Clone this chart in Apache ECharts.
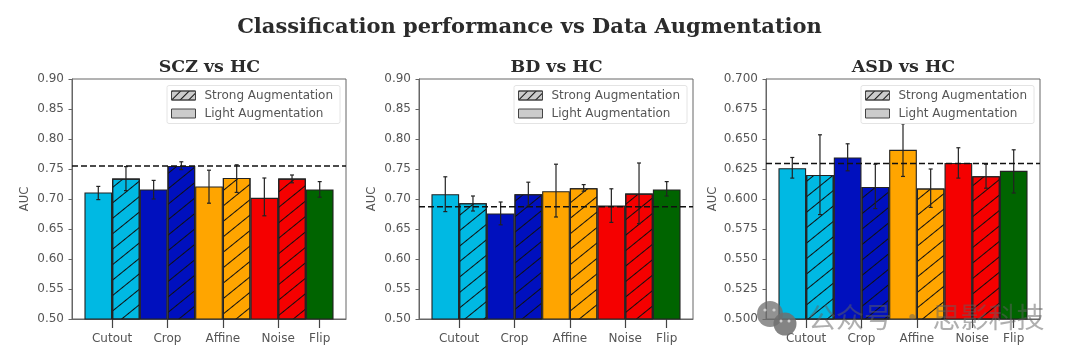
<!DOCTYPE html>
<html>
<head>
<meta charset="utf-8">
<style>
html,body{margin:0;padding:0;background:#fff;}
#main{width:1080px;height:363px;filter:blur(0.5px);}
</style>
<script src="https://cdn.jsdelivr.net/npm/echarts@6/dist/echarts.min.js"></script>
</head>
<body>
<div id="main"></div>
<script>
// tick labels for the x axis, placed at the bar positions below
const tickPos = [0.5, 2.5, 4.5, 6.5, 8];
const tickNames = ['Cutout', 'Crop', 'Affine', 'Noise', 'Flip'];

// bar slots: light bars sit on 0,2,4,6,8 and strong ones on 1,3,5,7
const lightPos = [0, 2, 4, 6, 8];
const strongPos = [1, 3, 5, 7];
const lightColors = ['#00b9e3', '#0010be', '#ffa500', '#f50000', '#006400'];
const strongColors = ['#00b9e3', '#0010be', '#ffa500', '#f50000'];

const titles = ['SCZ vs HC', 'BD vs HC', 'ASD vs HC'];
const gridLefts = [72, 419, 766];

// SCZ
const sczLight = [0.711, 0.716, 0.721, 0.702, 0.716];
const sczLightLow = [0.699, 0.700, 0.693, 0.672, 0.703];
const sczLightHigh = [0.721, 0.731, 0.748, 0.735, 0.729];
const sczStrong = [0.734, 0.755, 0.735, 0.734];
const sczStrongLow = [0.714, 0.749, 0.711, 0.727];
const sczStrongHigh = [0.754, 0.762, 0.757, 0.740];
// BD
const bdLight = [0.708, 0.676, 0.713, 0.689, 0.716];
const bdLightLow = [0.679, 0.657, 0.670, 0.661, 0.705];
const bdLightHigh = [0.737, 0.695, 0.758, 0.717, 0.729];
const bdStrong = [0.693, 0.708, 0.718, 0.709];
const bdStrongLow = [0.680, 0.688, 0.713, 0.659];
const bdStrongHigh = [0.705, 0.728, 0.724, 0.760];
// ASD
const asdLight = [0.6257, 0.6346, 0.641, 0.630, 0.6235];
const asdLightLow = [0.6174, 0.6235, 0.6188, 0.6174, 0.605];
const asdLightHigh = [0.6346, 0.646, 0.6627, 0.6427, 0.641];
const asdStrong = [0.620, 0.610, 0.6088, 0.619];
const asdStrongLow = [0.587, 0.592, 0.593, 0.609];
const asdStrongHigh = [0.6535, 0.629, 0.625, 0.629];

const baselines = [0.755, 0.687, 0.6296];
const yMins = [0.5, 0.5, 0.5];
const yMaxs = [0.9, 0.9, 0.7];
const ySteps = [0.05, 0.05, 0.025];
const yDigits = [2, 2, 3];
const yNameGaps = [41, 41, 47];

const panels = [
    {light: sczLight, lightLow: sczLightLow, lightHigh: sczLightHigh, strong: sczStrong, strongLow: sczStrongLow, strongHigh: sczStrongHigh},
    {light: bdLight, lightLow: bdLightLow, lightHigh: bdLightHigh, strong: bdStrong, strongLow: bdStrongLow, strongHigh: bdStrongHigh},
    {light: asdLight, lightLow: asdLightLow, lightHigh: asdLightHigh, strong: asdStrong, strongLow: asdStrongLow, strongHigh: asdStrongHigh}
];

const xMin = -0.95, xMax = 8.95;
const gridW = 274, gridH = 240, gridTop = 79;
const barPx = gridW / (xMax - xMin);
const gray = '#555';
const hatch = {
    symbol: 'rect',
    symbolSize: 1,
    color: '#101010',
    dashArrayX: [1, 0],
    dashArrayY: [1, 11],
    rotation: -Math.PI * 39 / 180
};
// the legend swatch is small, so its hatch runs tighter
const legendHatch = Object.assign({}, hatch, {dashArrayY: [1, 5], rotation: -Math.PI / 4});

function renderErr(params, api) {
    const x = api.value(0);
    const lo = api.coord([x, api.value(1)]);
    const hi = api.coord([x, api.value(2)]);
    const st = {stroke: '#222', lineWidth: 1.2};
    const line = (x1, y1, x2, y2) => ({type: 'line', shape: {x1, y1, x2, y2}, style: st});
    return {type: 'group', children: [
        line(lo[0], lo[1], hi[0], hi[1]),
        line(lo[0] - 2, lo[1], lo[0] + 2, lo[1]),
        line(hi[0] - 2, hi[1], hi[0] + 2, hi[1])
    ]};
}

const grid = [], xAxis = [], yAxis = [], series = [], legend = [], title = [];
title.push({
    text: 'Classification performance vs Data Augmentation',
    left: 524.5, top: 12, textAlign: 'center',
    textStyle: {fontFamily: 'DejaVu Serif', fontSize: 21, fontWeight: 'bold', color: '#2b2b2b'}
});

panels.forEach((p, i) => {
    const left = gridLefts[i];
    grid.push({left: left, top: gridTop, width: gridW, height: gridH, show: true, borderColor: '#666', borderWidth: 1, backgroundColor: '#fff'});
    title.push({
        text: titles[i], left: left + gridW / 2 - 4.5, top: 54, textAlign: 'center',
        textStyle: {fontFamily: 'DejaVu Serif', fontSize: 17.4, fontWeight: 'bold', color: '#2b2b2b'}
    });
    xAxis.push({
        type: 'value', gridIndex: i, min: xMin, max: xMax,
        splitLine: {show: false},
        axisLine: {show: true, onZero: false, lineStyle: {color: '#666'}},
        axisTick: {show: true, customValues: tickPos, length: 9, lineStyle: {color: '#444', width: 1.2}},
        axisLabel: {
            show: true, customValues: tickPos, margin: 14, fontSize: 12,
            fontFamily: 'DejaVu Sans', color: gray,
            formatter: v => tickNames[tickPos.indexOf(v)]
        }
    });
    yAxis.push({
        type: 'value', gridIndex: i, min: yMins[i], max: yMaxs[i], interval: ySteps[i],
        name: 'AUC', nameLocation: 'middle', nameGap: yNameGaps[i], nameRotate: 90,
        nameTextStyle: {fontFamily: 'DejaVu Sans', fontSize: 11.5, color: gray},
        splitLine: {show: false},
        axisLine: {show: true, onZero: false, lineStyle: {color: '#666'}},
        axisTick: {show: true, length: 3.5, lineStyle: {color: '#666'}},
        axisLabel: {
            fontSize: 12, margin: 8, fontFamily: 'DejaVu Sans', color: gray,
            formatter: v => v.toFixed(yDigits[i])
        }
    });
    series.push({
        name: 'Light Augmentation', type: 'bar', xAxisIndex: i, yAxisIndex: i,
        barWidth: barPx, barGap: '-100%', z: 2,
        itemStyle: {color: '#cbcbcb', borderColor: '#222', borderWidth: 1.1},
        data: p.light.map((v, k) => ({value: [lightPos[k], v], itemStyle: {color: lightColors[k]}}))
    });
    series.push({
        name: 'Strong Augmentation', type: 'bar', xAxisIndex: i, yAxisIndex: i,
        barWidth: barPx, barGap: '-100%', z: 2,
        itemStyle: {color: '#cbcbcb', borderColor: '#222', borderWidth: 1.1, decal: hatch},
        data: p.strong.map((v, k) => ({value: [strongPos[k], v], itemStyle: {color: strongColors[k], decal: hatch}}))
    });
    series.push({
        type: 'custom', xAxisIndex: i, yAxisIndex: i, z: 4, silent: true,
        clip: false,
        renderItem: renderErr,
        dimensions: ['x', 'low', 'high'],
        encode: {x: 'x', y: ['low', 'high']},
        data: lightPos.map((x, k) => [x, p.lightLow[k], p.lightHigh[k]])
            .concat(strongPos.map((x, k) => [x, p.strongLow[k], p.strongHigh[k]]))
    });
    series.push({
        type: 'line', xAxisIndex: i, yAxisIndex: i, z: 5, silent: true,
        symbol: 'none', lineStyle: {color: '#111', type: [6, 3], width: 1.5},
        data: [[xMin, baselines[i]], [xMax, baselines[i]]]
    });
    legend.push({
        orient: 'vertical', left: left + 95, top: 85.5, z: 10,
        data: [
            {name: 'Strong Augmentation', itemStyle: {decal: legendHatch, borderColor: '#444', borderWidth: 1}},
            {name: 'Light Augmentation', itemStyle: {borderColor: '#444', borderWidth: 1}}
        ],
        icon: 'rect',
        itemWidth: 24, itemHeight: 9, itemGap: 6, selectedMode: false,
        padding: [4, 7, 4, 4],
        backgroundColor: 'rgba(255,255,255,0.8)',
        borderColor: '#e4e4e4', borderWidth: 1, borderRadius: 2,
        textStyle: {fontFamily: 'DejaVu Sans', fontSize: 12, color: gray, padding: [0, 0, 0, 4]}
    });
});

const chart = echarts.init(document.getElementById('main'));
chart.setOption({
    animation: false,
    backgroundColor: '#fff',
    title, grid, xAxis, yAxis, series, legend,
    graphic: [
        {type: 'circle', shape: {cx: 770, cy: 314, r: 13}, z: 50, style: {fill: 'rgba(110,110,110,0.75)'}},
        {type: 'circle', shape: {cx: 785, cy: 324, r: 11.5}, z: 51, style: {fill: 'rgba(110,110,110,0.85)'}},
        {type: 'circle', shape: {cx: 765, cy: 310, r: 1.6}, z: 52, style: {fill: 'rgba(225,225,225,0.8)'}},
        {type: 'circle', shape: {cx: 774, cy: 310, r: 1.6}, z: 52, style: {fill: 'rgba(225,225,225,0.8)'}},
        {type: 'circle', shape: {cx: 781, cy: 321, r: 1.5}, z: 52, style: {fill: 'rgba(225,225,225,0.8)'}},
        {type: 'circle', shape: {cx: 789, cy: 321, r: 1.5}, z: 52, style: {fill: 'rgba(225,225,225,0.8)'}},
        {type: 'text', x: 808, y: 303, z: 52, style: {
            text: '公众号 · 思影科技', fontFamily: 'Noto Sans CJK SC', fontSize: 28,
            fill: 'rgba(95,95,95,0.5)'
        }}
    ]
});
</script>
</body>
</html>
